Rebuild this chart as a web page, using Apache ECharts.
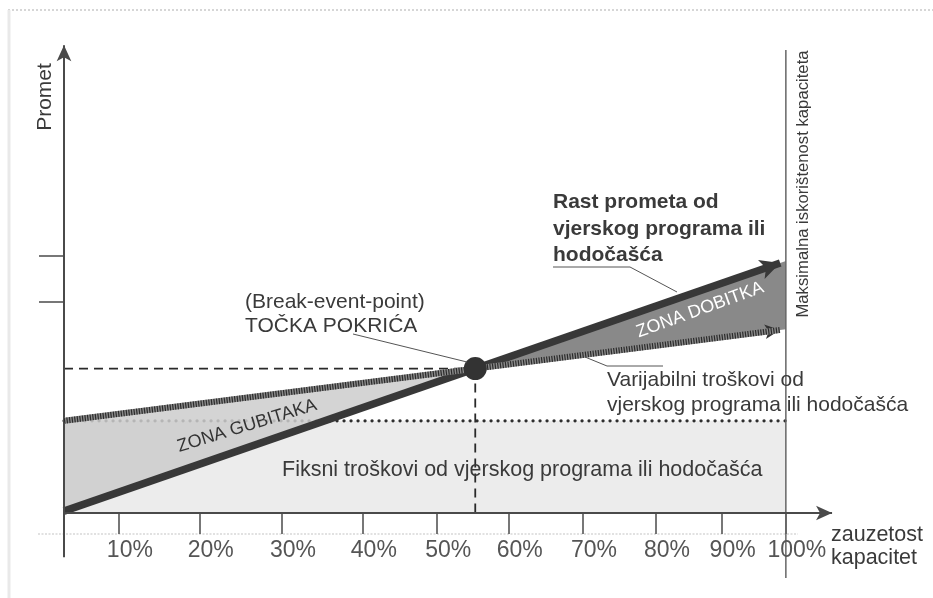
<!DOCTYPE html>
<html><head><meta charset="utf-8">
<script src="https://cdn.jsdelivr.net/npm/echarts@6/dist/echarts.min.js"></script>
<style>html,body{margin:0;padding:0;background:#fff}#c{width:933px;height:598px}</style>
</head><body><div id="c"></div>
<script>
// ---- data ----
const tickLabels = ['10%','20%','30%','40%','50%','60%','70%','80%','90%','100%'];
// where each percentage mark sits on the (hand-drawn, non-uniform) capacity axis
const tickPositions = [7.6, 18.8, 30.2, 41.4, 51.7, 61.6, 71.9, 82.0, 91.1, 100];
const revenue = [[0, 0.4], [100, 53.05]];       // Rast prometa
const variableCost = [[0, 19.4], [100, 38.7]];  // Varijabilni troškovi (start = fiksni)
const fixedCost = [[0, 19.4], [100, 19.4]];     // Fiksni troškovi
const yTickMarks = [44.4, 54.1];
const capacityMax = 100;

// ---- helpers ----
const X_MIN = -4, X_MAX = 107.5, Y_MIN = -14, Y_MAX = 100;
const KX = 776 / 107.5, KY = 4.75; // px per unit (for arrow back-off only)
function slope(l){ return (l[1][1]-l[0][1])/(l[1][0]-l[0][0]); }
function lineAt(l, x){ return l[0][1] + slope(l)*(x-l[0][0]); }
function backOff(l, x, px){
  const s = slope(l)*KY/KX;
  const dx = px/Math.sqrt(1+s*s)/KX;
  return [x-dx, lineAt(l, x-dx)];
}
const beX = (lineAt(variableCost,0)-lineAt(revenue,0))/(slope(revenue)-slope(variableCost));
const beY = lineAt(revenue, beX);

const FONT = '"Liberation Sans", Arial, Helvetica, sans-serif';
const TXT = '#3a3a3a';

function poly(points, fill, z, opacity){
  return {type:'custom', coordinateSystem:'cartesian2d', silent:true, z:z, clip:false,
    data:[[points[0][0], points[0][1]]],
    renderItem:(p, api)=>({type:'polygon', shape:{points: points.map(pt=>api.coord(pt))},
      style:{fill:fill, opacity:opacity==null?1:opacity}})};
}
function seg(data, style, z){
  return {type:'line', data:data, showSymbol:false, symbol:'none', silent:true, z:z,
    animation:false, lineStyle:style};
}
function arrowML(from, to, color, width, size, z){
  return {type:'line', data:[], silent:true, z:z, animation:false,
    markLine:{silent:true, animation:false, symbol:['none','arrow'], symbolSize:size, precision:6,
      label:{show:false}, emphasis:{disabled:true},
      lineStyle:{color:color, width:width, type:'solid', opacity:1},
      data:[[{coord:from},{coord:to}]]}};
}

const revEnd = backOff(revenue, capacityMax, 6);
const varEnd = backOff(variableCost, capacityMax, 6);
const varArrowStart = backOff(variableCost, capacityMax, 11);

const series = [
  {type:'line', data:fixedCost, showSymbol:false, symbol:'none', silent:true, z:1, animation:false,
    lineStyle:{width:0}, areaStyle:{color:'#ececec', opacity:1}},
  seg(fixedCost, {color:'#2e2e2e', width:3.2, type:[0.1,6.9], cap:'round'}, 2),
  poly([variableCost[0], [beX,beY], revenue[0]], '#cdcdcd', 3, 0.85),
  poly([[beX,beY], [capacityMax, lineAt(revenue,capacityMax)], [capacityMax, lineAt(variableCost,capacityMax)]], '#898989', 3, 1),
  seg([[0,beY],[beX,beY]], {color:'#2a2a2a', width:1.8, type:[9,6]}, 4),
  seg([[beX,beY],[beX,0]], {color:'#2a2a2a', width:1.8, type:[9,6]}, 4),
  seg([[capacityMax,97.5],[capacityMax,-13.7]], {color:'#666', width:1.5}, 4),
  seg([variableCost[0], varEnd], {color:'#8a8a8a', width:6}, 5),
  seg([variableCost[0], varEnd], {color:'#2b2b2b', width:6, type:[1.2,1.4]}, 6),
  arrowML(varArrowStart, varEnd, '#333', 1, [11,15], 6),
  arrowML(revenue[0], revEnd, '#383838', 7.5, [15,20], 7),
  {type:'scatter', data:[[beX,beY]], symbolSize:23, silent:true, z:8, animation:false,
    itemStyle:{color:'#333', opacity:1}},
  arrowML([0,-9.3], [0, Y_MAX-1.5], '#4a4a4a', 2, [11,16], 6),
  arrowML([0,0], [X_MAX-1.1, 0], '#4a4a4a', 2, [11,16], 6),
  // capacity tick labels, placed at the tick positions through the x scale
  {type:'custom', coordinateSystem:'cartesian2d', silent:true, z:9, clip:false, animation:false,
    data: tickPositions.map(p=>[p, 0]),
    renderItem:(p, api)=>{
      const c = api.coord([api.value(0), api.value(1)]);
      return {type:'text', x:c[0]+11, y:c[1]+38,
        style:{text: tickLabels[p.dataIndex], fontSize:23, fontFamily:FONT, fill:'#555',
               align:'center', verticalAlign:'middle'}};
    }}
];

const chart = echarts.init(document.getElementById('c'), null, {renderer:'canvas'});
chart.setOption({
  animation:false,
  backgroundColor:'#fff',
  grid:{left:64 + X_MIN*KX, right:93, top:38, bottom:598-(513 + (-Y_MIN)*KY), containLabel:false, outerBoundsMode:'none'},
  xAxis:{type:'value', min:X_MIN, max:X_MAX, axisLine:{show:false, onZero:true}, splitLine:{show:false},
    axisTick:{show:true, customValues:tickPositions, length:21, lineStyle:{color:'#555', width:1.6}},
    axisLabel:{show:false}},
  yAxis:{type:'value', min:Y_MIN, max:Y_MAX, axisLine:{show:false, onZero:true}, splitLine:{show:false},
    axisLabel:{show:false},
    axisTick:{show:true, customValues:yTickMarks, length:25, lineStyle:{color:'#777', width:2}}},
  series:series,
  graphic:[
    {type:'line', shape:{x1:8,y1:10,x2:933,y2:10}, style:{stroke:'#c9c9c9', lineWidth:1.5, lineDash:[2,2]}, silent:true},
    {type:'line', shape:{x1:9,y1:10,x2:9,y2:598}, style:{stroke:'#e9e9e9', lineWidth:3}, silent:true},
    {type:'line', shape:{x1:38,y1:534,x2:798,y2:534}, style:{stroke:'#c4c4c4', lineWidth:1.2, lineDash:[2,1.5]}, silent:true},
    {type:'polyline', shape:{points:[[353,334],[467,362]]}, style:{stroke:'#555', lineWidth:1, fill:null}, silent:true, z:100},
    {type:'polyline', shape:{points:[[553,267],[630,267],[677,292]]}, style:{stroke:'#555', lineWidth:1, fill:null}, silent:true, z:100},
    {type:'polyline', shape:{points:[[585,357],[607,366],[663,366]]}, style:{stroke:'#555', lineWidth:1, fill:null}, silent:true, z:100},
    {type:'text', x:45, y:97, rotation:Math.PI/2, silent:true, z:100,
      style:{text:'Promet', fontSize:21, fontFamily:FONT, fill:TXT, align:'center', verticalAlign:'middle'}},
    {type:'text', x:803, y:184, rotation:Math.PI/2, silent:true, z:100,
      style:{text:'Maksimalna iskorištenost kapaciteta', fontSize:16.7, fontFamily:FONT, fill:TXT, align:'center', verticalAlign:'middle'}},
    {type:'text', x:245, y:290, silent:true, z:100,
      style:{text:'(Break-event-point)\nTOČKA POKRIĆA', fontSize:21, lineHeight:24, fontFamily:FONT, fill:TXT, align:'left', verticalAlign:'top'}},
    {type:'text', x:553, y:189, silent:true, z:100,
      style:{text:'Rast prometa od\nvjerskog programa ili\nhodočašća', fontSize:21, fontWeight:'bold', lineHeight:26.5, fontFamily:FONT, fill:TXT, align:'left', verticalAlign:'top'}},
    {type:'text', x:607, y:367.5, silent:true, z:100,
      style:{text:'Varijabilni troškovi od\nvjerskog programa ili hodočašća', fontSize:21, lineHeight:25, fontFamily:FONT, fill:TXT, align:'left', verticalAlign:'top'}},
    {type:'text', x:282, y:470, silent:true, z:100,
      style:{text:'Fiksni troškovi od vjerskog programa ili hodočašća', fontSize:21.5, fontFamily:FONT, fill:TXT, align:'left', verticalAlign:'middle'}},
    {type:'text', x:247, y:426, rotation:0.297, silent:true, z:100,
      style:{text:'ZONA GUBITAKA', fontSize:18, fontFamily:FONT, fill:'#333', align:'center', verticalAlign:'middle'}},
    {type:'text', x:700, y:310, rotation:0.349, silent:true, z:100,
      style:{text:'ZONA DOBITKA', fontSize:18, fontFamily:FONT, fill:'#fff', align:'center', verticalAlign:'middle'}},
    {type:'text', x:831, y:523, silent:true, z:100,
      style:{text:'zauzetost\nkapacitet', fontSize:21.5, lineHeight:23.5, fontFamily:FONT, fill:TXT, align:'left', verticalAlign:'top'}}
  ]
});
</script></body></html>
